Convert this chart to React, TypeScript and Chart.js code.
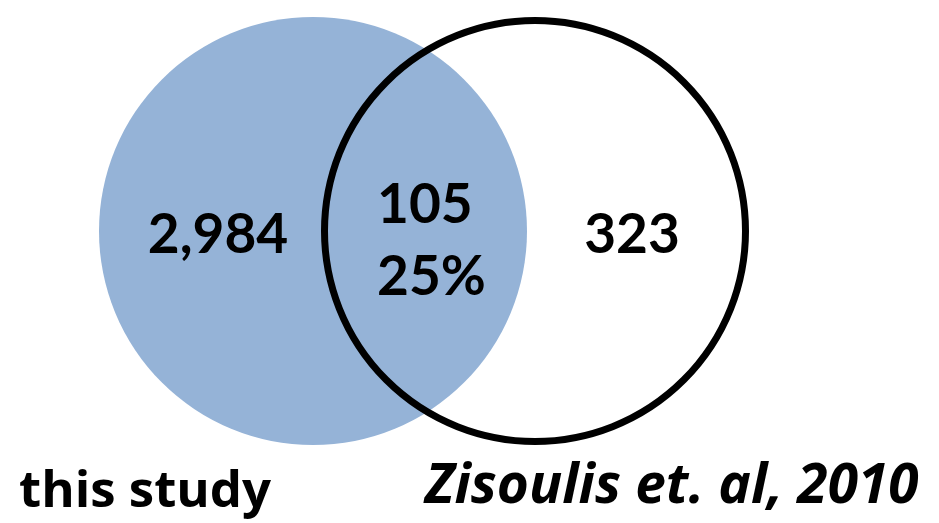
import React, { useEffect, useRef } from "react";
import { Chart, registerables } from "chart.js";

Chart.register(...registerables);

// Sets of the Venn diagram
const setNames = ["this study", "Zisoulis et. al, 2010"];
const setCenterX = [313, 535];
const setCenterY = [231, 231];
const setRadius = [214, 210.5];

// Region counts
const onlyA = "2,984";
const overlapCount = "105";
const overlapPct = "25%";
const onlyB = "323";

const W = 939;
const H = 523;

export default function App() {
  const ref = useRef<HTMLCanvasElement | null>(null);

  useEffect(() => {
    if (!ref.current) return;

    const radiusPx = (i: number, chart: any) => {
      const xs = chart.scales.x;
      return xs.getPixelForValue(setRadius[i]) - xs.getPixelForValue(0);
    };

    const labelPlugin = {
      id: "vennLabels",
      afterDatasetsDraw(chart: any) {
        const c = chart.ctx;
        const xs = chart.scales.x;
        const ys = chart.scales.y;
        const put = (
          text: string,
          x: number,
          y: number,
          font: string,
          align: CanvasTextAlign
        ) => {
          c.save();
          c.font = font;
          c.fillStyle = "#000";
          c.textAlign = align;
          c.textBaseline = "alphabetic";
          c.fillText(text, xs.getPixelForValue(x), ys.getPixelForValue(y));
          c.restore();
        };
        const num = "bold 55px Lato";
        put(onlyA, 218, 253, num, "center");
        put(overlapCount, 377, 223, num, "left");
        put(overlapPct, 377, 295, num, "left");
        put(onlyB, 632, 253, num, "center");
        put(setNames[0], 19, 507, "bold 51px 'Open Sans'", "left");
        put(setNames[1], 425, 503, "italic bold 55px 'Open Sans'", "left");
      },
    };

    const chart = new Chart(ref.current, {
      type: "scatter",
      data: {
        datasets: [
          {
            label: setNames[0],
            data: [{ x: setCenterX[0], y: setCenterY[0] }],
            pointRadius: (ctx: any) => radiusPx(0, ctx.chart),
            pointBackgroundColor: "#95b3d7",
            pointBorderWidth: 0,
            pointBorderColor: "rgba(0,0,0,0)",
            order: 2,
          },
          {
            label: setNames[1],
            data: [{ x: setCenterX[1], y: setCenterY[1] }],
            pointRadius: (ctx: any) => radiusPx(1, ctx.chart),
            pointBackgroundColor: "rgba(0,0,0,0)",
            pointBorderWidth: 7,
            pointBorderColor: "#000",
            order: 1,
          },
        ],
      },
      options: {
        responsive: false,
        animation: false,
        events: [],
        layout: { padding: 0 },
        clip: false as any,
        plugins: {
          legend: { display: false },
          tooltip: { enabled: false },
        },
        scales: {
          x: { type: "linear", min: 0, max: W, display: false },
          y: { type: "linear", min: 0, max: H, reverse: true, display: false },
        },
      },
      plugins: [labelPlugin],
    });

    return () => chart.destroy();
  }, []);

  return (
    <div style={{ position: "fixed", left: 0, top: 0, width: W, height: H, background: "#fff" }}>
      <canvas ref={ref} width={W} height={H} style={{ display: "block" }} />
    </div>
  );
}
